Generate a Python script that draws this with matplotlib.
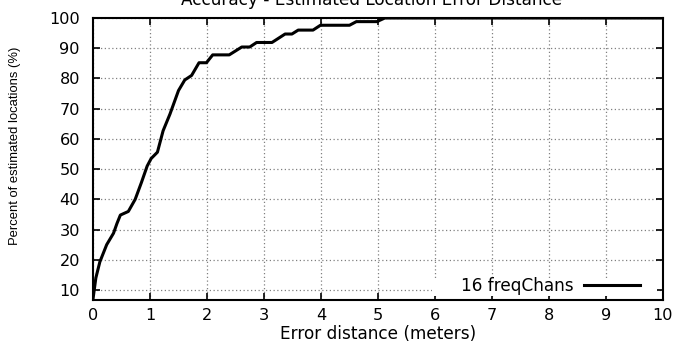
import matplotlib
matplotlib.use("Agg")
import matplotlib.pyplot as plt
from matplotlib.patches import Rectangle

plt.rcParams['font.family'] = ['DejaVu Sans']

# Data (CDF of error distance)
error_m = [0, 0.05, 0.12, 0.24, 0.36, 0.42, 0.48, 0.62, 0.74, 0.85, 0.95, 1.02,
           1.13, 1.23, 1.35, 1.5, 1.61, 1.73, 1.86, 1.99, 2.1, 2.39, 2.61, 2.75,
           2.87, 3.14, 3.37, 3.49, 3.6, 3.86, 3.99, 4.5, 4.62, 4.98, 5.12, 10]
percent = [7, 14, 19.3, 25, 28.8, 32, 34.8, 36, 40, 45.6, 51, 53.5,
           55.6, 62.7, 68.2, 76, 79.5, 81, 85.2, 85.2, 87.8, 87.8, 90.4, 90.4,
           91.9, 91.9, 94.7, 94.7, 96, 96, 97.6, 97.6, 98.8, 98.8, 100, 100]
series_label = "16 freqChans"
x_ticks = list(range(0, 11))
y_ticks = list(range(10, 101, 10))

FS = 11.6
W, H = 678, 346
fig = plt.figure(figsize=(W / 100, H / 100), dpi=100)
left, right, top, bottom = 93, 663, 18, 300
ax = fig.add_axes([left / W, 1 - bottom / H, (right - left) / W, (bottom - top) / H])

ax.plot(error_m, percent, color='black', lw=2.2, label=series_label, zorder=3)
ax.set_xlim(0, 10)
ax.set_ylim(6.7, 100)
ax.set_xticks(x_ticks)
ax.set_yticks(y_ticks)
ax.grid(True, color='#808080', linestyle=(0, (1, 2)), lw=0.9)
ax.tick_params(direction='in', length=5, width=1.2, top=True, right=True,
               labelsize=FS, colors='black')
ax.tick_params(axis='x', pad=6)
ax.tick_params(axis='y', pad=9.4)
for s in ax.spines.values():
    s.set_linewidth(1.5)

ax.set_xlabel("Error distance (meters)", fontsize=FS + 0.6, va='center')
ax.xaxis.set_label_coords(0.5, (bottom - 334) / (bottom - top))
ax.set_ylabel("Percent of estimated locations (%)", fontsize=9.4,
              family=['Liberation Sans Narrow', 'Liberation Sans'],
              rotation=90, ha='center', va='center', rotation_mode='default')
ax.yaxis.set_label_coords((15 - left) / (right - left), (bottom - 146) / (bottom - top))

# white background behind the key, as in the reference
ax.add_patch(Rectangle((5.95, 8.0), 3.95, 5.7, facecolor='white',
                       edgecolor='none', zorder=2))
leg = ax.legend(loc='center right', frameon=False, fontsize=FS + 0.6,
                handlelength=3.3, handletextpad=0.64, markerfirst=False,
                borderpad=0, borderaxespad=0,
                bbox_to_anchor=((640 - left) / (right - left), (bottom - 286) / (bottom - top)))

fig.text(372 / W, 1 - 5 / H, "Accuracy - Estimated Location Error Distance",
         ha='center', va='baseline', fontsize=FS + 0.6)

fig.savefig("out.png", dpi=100)
